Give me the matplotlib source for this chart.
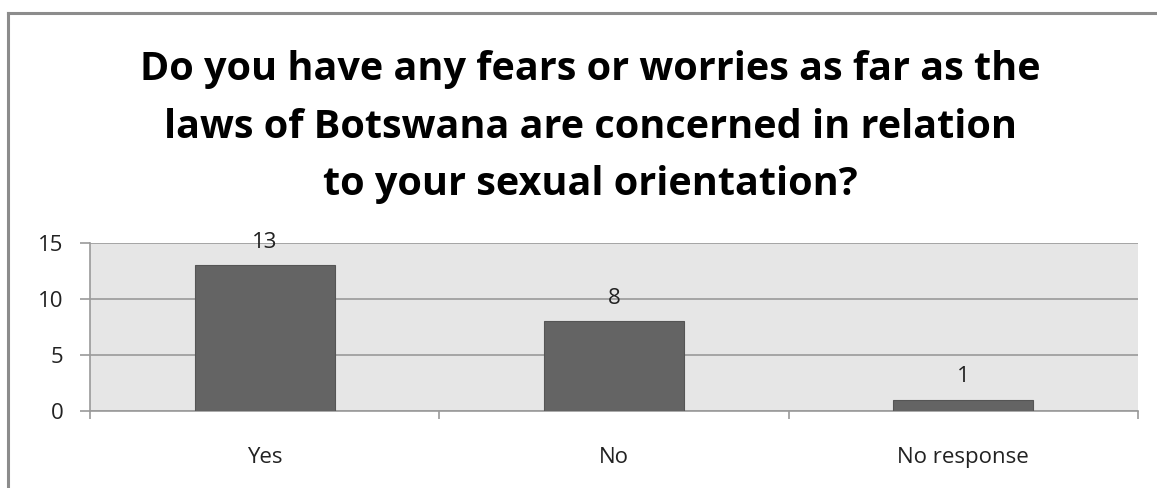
import matplotlib
matplotlib.use("Agg")
import matplotlib.pyplot as plt
from matplotlib.lines import Line2D

categories = ["Yes", "No", "No response"]
counts = [13, 8, 1]
y_ticks = [0, 5, 10, 15]
title_lines = [
    "Do you have any fears or worries as far as the",
    "laws of Botswana are concerned in relation",
    "to your sexual orientation?",
]

W, H = 1157, 488
fig = plt.figure(figsize=(W / 100, H / 100), dpi=100)
fig.patch.set_facecolor("white")

# outer chart frame (top and left edges visible)
fig.add_artist(Line2D([8 / W, 1.0], [1 - 13 / H, 1 - 13 / H], color="#8c8c8c", lw=2.2))
fig.add_artist(Line2D([8 / W, 8 / W], [0, 1 - 13 / H], color="#8c8c8c", lw=2.2))

# plot area
left, right, top, bottom = 90, 1138, 243, 411
ax = fig.add_axes([left / W, 1 - bottom / H, (right - left) / W, (bottom - top) / H])
ax.set_facecolor("#e6e6e6")

x = list(range(len(categories)))
ax.bar(x, counts, width=0.4, color="#646464", edgecolor="#555555", linewidth=0.8, zorder=3)
ax.set_xlim(-0.5, len(categories) - 0.5)
ax.set_ylim(0, 15)

label_font = dict(fontsize=16, family="Open Sans", color="#222222")

ax.set_yticks(y_ticks)
ax.set_yticklabels([str(v) for v in y_ticks], **label_font)
ax.yaxis.grid(True, color="#9a9a9a", lw=1.2, zorder=1)
ax.tick_params(axis="y", length=7, width=1.2, color="#9a9a9a", pad=12)

ax.set_xticks(x)
ax.set_xticklabels(categories, **label_font)
ax.set_xticks([-0.5, 0.5, 1.5, 2.5], minor=True)
ax.tick_params(axis="x", which="major", length=0, pad=26)
ax.tick_params(axis="x", which="minor", length=6, width=1.2, color="#9a9a9a", direction="out")

for side in ("top", "right"):
    ax.spines[side].set_visible(False)
for side in ("left", "bottom"):
    ax.spines[side].set_color("#9a9a9a")
    ax.spines[side].set_linewidth(1.2)

for xi, v in zip(x, counts):
    ax.annotate(str(v), (xi, v), xytext=(0, 12.5), textcoords="offset points",
                ha="center", va="baseline", zorder=4, annotation_clip=False,
                **label_font)

for line, base in zip(title_lines, [80, 138, 195]):
    fig.text(590 / W, 1 - base / H, line, ha="center", va="baseline", fontsize=28.5,
             fontweight="bold", family="Open Sans", color="black")

fig.savefig("out.png", dpi=100, facecolor="white")
